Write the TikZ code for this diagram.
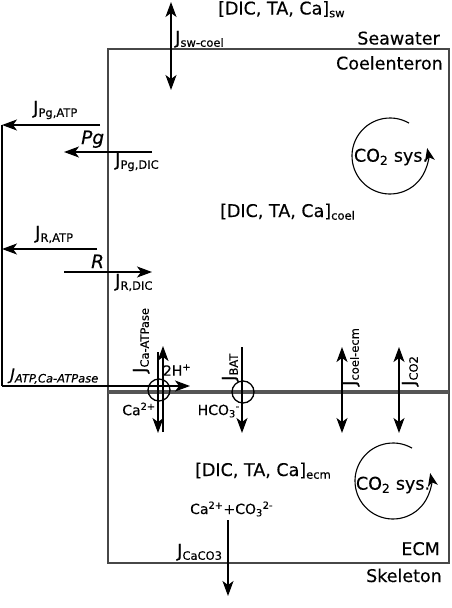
\documentclass[tikz,border=0pt]{standalone}
\usepackage{fontspec}
\setmainfont{DejaVu Sans}[UprightFeatures={FakeBold=0.25}, ItalicFeatures={FakeBold=0.25}]
\usetikzlibrary{arrows.meta}
\definecolor{boxgray}{HTML}{474747}
\definecolor{midgray}{HTML}{555555}
\newcommand{\fsz}[1]{\fontsize{#1}{#1}\selectfont}
\newcommand{\jsub}[1]{\raisebox{-0.28ex}{\fontsize{11.5}{12}\selectfont #1}}
\begin{document}
\begin{tikzpicture}[x=1pt,y=-1pt,
  box/.style={draw=boxgray, line width=1.9pt},
  midline/.style={draw=midgray, line width=3.4pt},
  tip/.tip={Stealth[length=15pt,width=11pt,inset=4pt]},
  flux/.style={line width=1.3pt, -tip},
  dflux/.style={line width=1.3pt, tip-tip},
  plain/.style={line width=1.3pt},
  cyc/.style={line width=1.1pt, -{Stealth[length=13pt,width=10pt,inset=3.5pt]}},
  lbl/.style={inner sep=0pt, font=\fsz{17.5}},
  jl/.style={inner sep=0pt, font=\fsz{18}},
  jit/.style={inner sep=0pt, font=\fsz{16}\itshape},
  chem/.style={inner sep=0pt, font=\fsz{14}},
  pore/.style={circle, draw, line width=1.3pt, minimum size=22pt, inner sep=0pt},
]
\useasboundingbox (0,0) rectangle (452,608);
% boxes
\coordinate (tl) at (108,49);
\coordinate (br) at (449,563);
\coordinate (ml) at (108,392);
\coordinate (mr) at (449,392);
\draw[box] (tl) rectangle (br);
\draw[midline] (ml) -- (mr);

% region labels
\node[lbl, anchor=base west] (csw) at (218,14.5) {[DIC, TA, Ca]\jsub{sw}};
\node[lbl, anchor=base east] (sea) at (440,44.5) {Seawater};
\node[lbl, anchor=base east] (coel) at (443,69.5) {Coelenteron};
\node[lbl, anchor=base west] (ccoel) at (220,217) {[DIC, TA, Ca]\jsub{coel}};
\node[lbl, anchor=base west] (cecm) at (195,476) {[DIC, TA, Ca]\jsub{ecm}};
\node[lbl, anchor=base east] (ecm) at (440,555) {ECM};
\node[lbl, anchor=base east] (skel) at (442,582) {Skeleton};

% CO2 systems
\node[lbl] (co2a) at (391,157) {CO\textsubscript{2} sys.};
\node[lbl] (co2b) at (393,485) {CO\textsubscript{2} sys.};
\draw[cyc] (390,156) ++(-60:38) arc[start angle=-60, end angle=-372, radius=38];
\draw[cyc] (393,481) ++(-60:38) arc[start angle=-60, end angle=-372, radius=38];

% seawater-coelenteron flux
\coordinate (swt) at (171,2);
\coordinate (swb) at (171,90);
\draw[dflux] (swt) -- (swb);
\node[jl, anchor=base west] (jsw) at (175,44) {J\jsub{sw-coel}};

% photosynthesis
\node[inner sep=0pt, font=\fsz{18.5}\itshape, anchor=base west] (pg) at (81,144) {Pg};
\coordinate (pga1) at (100,125);
\coordinate (pga2) at (2,125);
\draw[flux] (pga1) -- (pga2);
\node[jl, anchor=base west] (jpga) at (33,114) {J\jsub{Pg,ATP}};
\coordinate (pgd1) at (152,152);
\coordinate (pgd2) at (64,152);
\draw[flux] (pgd1) -- (pgd2);
\node[jl, anchor=base west] (jpgd) at (115,166) {J\jsub{Pg,DIC}};

% respiration
\node[inner sep=0pt, font=\fsz{18.5}\itshape, anchor=base west] (r) at (91,268) {R};
\coordinate (ra1) at (97,249);
\coordinate (ra2) at (2,249);
\draw[flux] (ra1) -- (ra2);
\node[jl, anchor=base west] (jra) at (35,239) {J\jsub{R,ATP}};
\coordinate (rd1) at (64,272);
\coordinate (rd2) at (152,272);
\draw[flux] (rd1) -- (rd2);
\node[jl, anchor=base west] (jrd) at (115,287) {J\jsub{R,DIC}};

% ATP line
\coordinate (atp0) at (2,386);
\coordinate (atp1) at (190,386);
\draw[plain] (pga2) -- (atp0);
\draw[flux] (atp0) -- (atp1);
\node[jit, anchor=base west] (jatp) at (10,380) {J\jsub{ATP,Ca-ATPase}};

% Ca-ATPase
\node[pore] (p1) at (159,390) {};
\coordinate (cau1) at (163,432);
\coordinate (cau2) at (163,346);
\coordinate (cad1) at (158,352);
\coordinate (cad2) at (158,433);
\draw[flux] (cau1) -- (cau2);
\draw[flux] (cad1) -- (cad2);
\node[jl, rotate=90, anchor=base west] (jca) at (146,373) {J\jsub{Ca-ATPase}};
\node[chem] (h) at (177,370) {2H\textsuperscript{+}};
\node[chem] (ca) at (139,409) {Ca\textsuperscript{2+}};

% BAT
\node[pore] (p2) at (243,392) {};
\coordinate (bat1) at (242,347);
\coordinate (bat2) at (242,433);
\draw[flux] (bat1) -- (bat2);
\node[jl, rotate=90, anchor=base west] (jbat) at (235,381) {J\jsub{BAT}};
\node[chem, anchor=base east] (hco) at (240,415) {HCO\textsubscript{3}\textsuperscript{-}};

% coel-ecm and CO2
\coordinate (ce1) at (342,347);
\coordinate (ce2) at (342,433);
\draw[dflux] (ce1) -- (ce2);
\node[jl, rotate=90, anchor=base west] (jce) at (356,386) {J\jsub{coel-ecm}};
\coordinate (cd1) at (399,347);
\coordinate (cd2) at (399,433);
\draw[dflux] (cd1) -- (cd2);
\node[jl, rotate=90, anchor=base west] (jcd) at (415,386) {J\jsub{CO2}};

% calcification
\node[chem, anchor=base west] (calc) at (190,514) {Ca\textsuperscript{2+}+CO\textsubscript{3}\textsuperscript{2-}};
\coordinate (cc1) at (228,520);
\coordinate (cc2) at (228,596);
\draw[flux] (cc1) -- (cc2);
\node[jl, anchor=base west] (jcc) at (177,557) {J\jsub{CaCO3}};
\end{tikzpicture}
\end{document}
